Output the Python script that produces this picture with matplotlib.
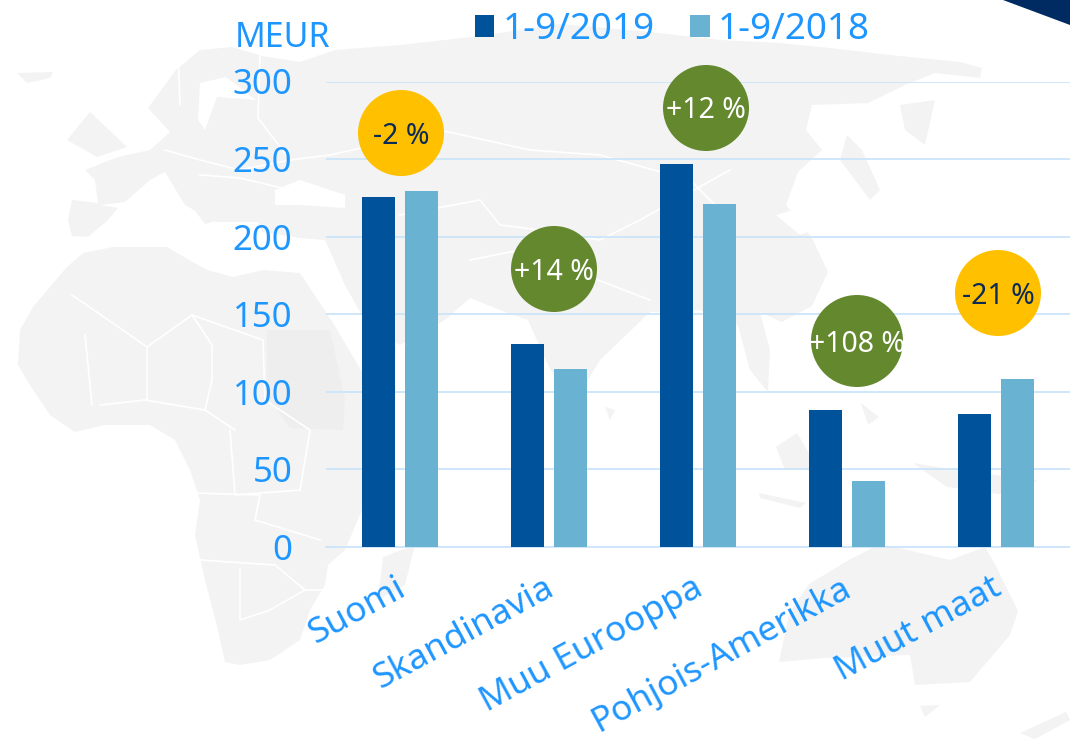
import matplotlib
matplotlib.use('Agg')
import matplotlib.pyplot as plt
from matplotlib.patches import Circle, Polygon
from matplotlib.transforms import ScaledTranslation

plt.rcParams['font.family'] = ['Noto Sans', 'DejaVu Sans']

W, H = 1070, 739

# chart values
regions = ['Suomi', 'Skandinavia', 'Muu Eurooppa', 'Pohjois-Amerikka', 'Muut maat']
sales_2019 = [225.5, 131, 247, 88, 86]
sales_2018 = [229.5, 115, 221, 42.5, 108]
changes = ['-2 %', '+14 %', '+12 %', '+108 %', '-21 %']
yticks = [0, 50, 100, 150, 200, 250, 300]

BLUE_TEXT = '#1E96FF'
DARK = '#00529B'
LIGHT = '#6AB2D2'
GRID = '#CFE6FA'
GOLD = '#FFC000'
GREEN = '#64882E'
NAVY = '#0B2A55'
MAP = '#F3F3F3'

# rough world map behind the chart, in image pixels
eurasia = [(85, 170), (118, 157), (150, 150), (170, 132), (148, 108), (176, 70), (200, 50), (232, 47),
           (262, 56), (300, 62), (335, 50), (400, 45), (480, 36), (560, 24), (650, 32), (720, 40), (780, 43),
           (830, 48), (890, 55), (960, 62), (982, 68), (980, 78), (935, 73), (905, 85), (868, 103), (812, 105),
           (806, 130), (822, 150), (798, 172), (786, 205), (812, 238), (828, 272), (812, 306), (782, 322),
           (760, 312), (770, 350), (768, 392), (750, 370), (738, 325), (700, 310), (650, 312), (600, 360),
           (572, 406), (548, 365), (528, 320), (505, 312), (470, 298), (445, 320), (400, 345), (370, 330),
           (345, 285), (325, 240), (300, 238), (262, 232), (258, 222), (215, 222), (185, 205), (165, 172),
           (150, 180), (125, 202), (100, 205), (118, 208), (108, 220), (88, 237), (72, 236), (68, 220),
           (72, 200), (98, 203), (95, 180)]
africa = [(20, 330), (33, 307), (67, 267), (83, 253), (113, 247), (167, 247), (177, 253), (207, 270),
          (233, 277), (263, 270), (300, 273), (333, 323), (355, 360), (376, 395), (396, 385), (390, 440),
          (362, 510), (345, 550), (328, 565), (325, 585), (310, 610), (300, 640), (270, 660), (240, 665),
          (225, 662), (218, 630), (205, 580), (195, 535), (200, 500), (190, 470), (175, 440), (150, 425),
          (105, 425), (75, 432), (50, 415), (30, 385), (18, 365)]
australia = [(849, 560), (874, 547), (895, 547), (950, 560), (985, 547), (995, 564), (1018, 611), (1010, 635),
             (970, 682), (915, 685), (910, 655), (824, 658), (779, 662), (789, 614), (809, 584)]
islands = [[(17, 73), (53, 72), (50, 78), (27, 83)],
           [(67, 140), (90, 112), (127, 147), (97, 157)],
           [(383, 557), (415, 545), (405, 585), (378, 600)],
           [(920, 706), (940, 705), (925, 717)],
           [(1020, 733), (1066, 712), (1070, 720), (1035, 739)],
           [(776, 447), (797, 433), (819, 470), (785, 470)],
           [(913, 463), (955, 470), (1037, 480), (1020, 497), (947, 487)],
           [(759, 493), (806, 503), (800, 508), (760, 498)],
           [(861, 403), (879, 417), (868, 425)],
           [(605, 407), (615, 410), (610, 420)],
           [(847, 135), (862, 150), (880, 190), (870, 200), (840, 160)],
           [(900, 105), (935, 100), (925, 145), (905, 130)],
           [(185, 183), (213, 222), (205, 224), (183, 195)]]
sudan = [(267, 330), (330, 330), (345, 400), (343, 430), (290, 428), (267, 395)]
seas = [[(275, 190), (300, 180), (345, 195), (345, 208), (300, 205), (275, 205)],
        [(200, 83), (226, 77), (256, 100), (217, 97), (205, 130), (198, 120)],
        [(776, 215), (800, 208), (827, 225), (800, 235)]]
borders = [[(72, 295), (130, 335), (147, 347), (192, 315), (263, 340)],
           [(147, 347), (147, 400)], [(85, 335), (92, 405)], [(192, 315), (212, 345), (212, 380), (205, 410)],
           [(263, 340), (265, 400), (310, 430), (300, 490)], [(230, 430), (235, 495), (300, 490)],
           [(195, 493), (260, 495), (255, 520), (320, 540)], [(200, 560), (275, 565), (305, 590), (325, 590)],
           [(240, 570), (240, 620), (270, 610), (305, 590)], [(100, 405), (145, 400), (205, 410), (235, 430)],
           [(165, 150), (200, 160), (240, 170), (290, 160), (330, 155)], [(200, 175), (240, 178), (290, 190)],
           [(178, 52), (180, 105)], [(260, 55), (258, 118), (290, 160)], [(330, 155), (440, 130), (530, 150)],
           [(530, 150), (600, 155), (690, 180), (720, 210)], [(400, 215), (480, 200), (500, 225), (540, 230)],
           [(470, 260), (520, 250), (650, 300)], [(540, 230), (600, 240), (640, 220), (730, 170)]]

fig = plt.figure(figsize=(W / 100, H / 100), dpi=100)

bg = fig.add_axes([0, 0, 1, 1], zorder=0)
bg.set_xlim(0, W)
bg.set_ylim(H, 0)
bg.axis('off')
for pts in [eurasia, africa, australia] + islands:
    bg.add_patch(Polygon(pts, closed=True, fc=MAP, ec='none', zorder=1))
bg.add_patch(Polygon(sudan, closed=True, fc='#EEEEEE', ec='none', zorder=1.5))
for pts in seas:
    bg.add_patch(Polygon(pts, closed=True, fc='white', ec='none', zorder=2))
for pts in borders:
    bg.plot(*zip(*pts), color='white', lw=1.2, zorder=3)
# dark corner of the slide
bg.add_patch(Polygon([(1003, 0), (1070, 25), (1070, 0)], closed=True, fc='#002B62', ec='none', zorder=4))

ax = fig.add_axes([326 / W, (H - 547) / H, 744 / W, 465.5 / H], zorder=1)
ax.patch.set_alpha(0)
x = list(range(len(regions)))
bar_w = 0.225
off = 0.143
ax.bar([i - off for i in x], sales_2019, bar_w, color=DARK, zorder=3, label='1-9/2019')
ax.bar([i + off for i in x], sales_2018, bar_w, color=LIGHT, zorder=3, label='1-9/2018')
ax.set_xlim(-0.497, 4.497)
ax.set_ylim(0, 300)
ax.set_yticks(yticks)
ax.grid(axis='y', color=GRID, lw=1.4, zorder=1)
ax.set_axisbelow(True)
for s in ax.spines.values():
    s.set_visible(False)
ax.spines['bottom'].set_visible(True)
ax.spines['bottom'].set_color(GRID)
ax.spines['bottom'].set_linewidth(1.4)
ax.tick_params(axis='y', length=0, pad=24.3, labelsize=25, labelcolor=BLUE_TEXT)
ax.tick_params(axis='x', length=0, pad=17, labelcolor=BLUE_TEXT)
ax.set_xticks(x)
ax.set_xticklabels(regions, rotation=28.5, ha='right', rotation_mode='anchor', fontsize=25.5)
# nudge the slanted labels left, their ends sit just past the group centre
nudge = ScaledTranslation(-4 / 72, 0, fig.dpi_scale_trans)
for lab in ax.get_xticklabels():
    lab.set_transform(lab.get_transform() + nudge)

fig.text(235 / W, (H - 47) / H, 'MEUR', color=BLUE_TEXT, fontsize=24.5, va='baseline', ha='left')

ax.legend(loc='upper left', bbox_to_anchor=(475 / W, (H - 12) / H), bbox_transform=fig.transFigure,
          ncol=2, frameon=False, fontsize=26.5, labelcolor=BLUE_TEXT, borderpad=0, borderaxespad=0,
          handlelength=0.52, handleheight=0.52, handletextpad=0.22, columnspacing=0.98)

# change bubbles, on top of everything
top = fig.add_axes([0, 0, 1, 1], zorder=2)
top.set_xlim(0, W)
top.set_ylim(H, 0)
top.axis('off')
bubble_x = [401, 554, 706, 857, 998]
bubble_y = [133, 269, 108, 341, 293]
bubble_r = [43, 43, 43, 46, 43]
for bx, by, r, txt in zip(bubble_x, bubble_y, bubble_r, changes):
    neg = txt.startswith('-')
    top.add_patch(Circle((bx, by), r, fc=GOLD if neg else GREEN, ec='none'))
    top.text(bx, by + 3, txt, color=NAVY if neg else 'white', fontsize=20.5, ha='center', va='center')

fig.savefig('out.png', dpi=100)
